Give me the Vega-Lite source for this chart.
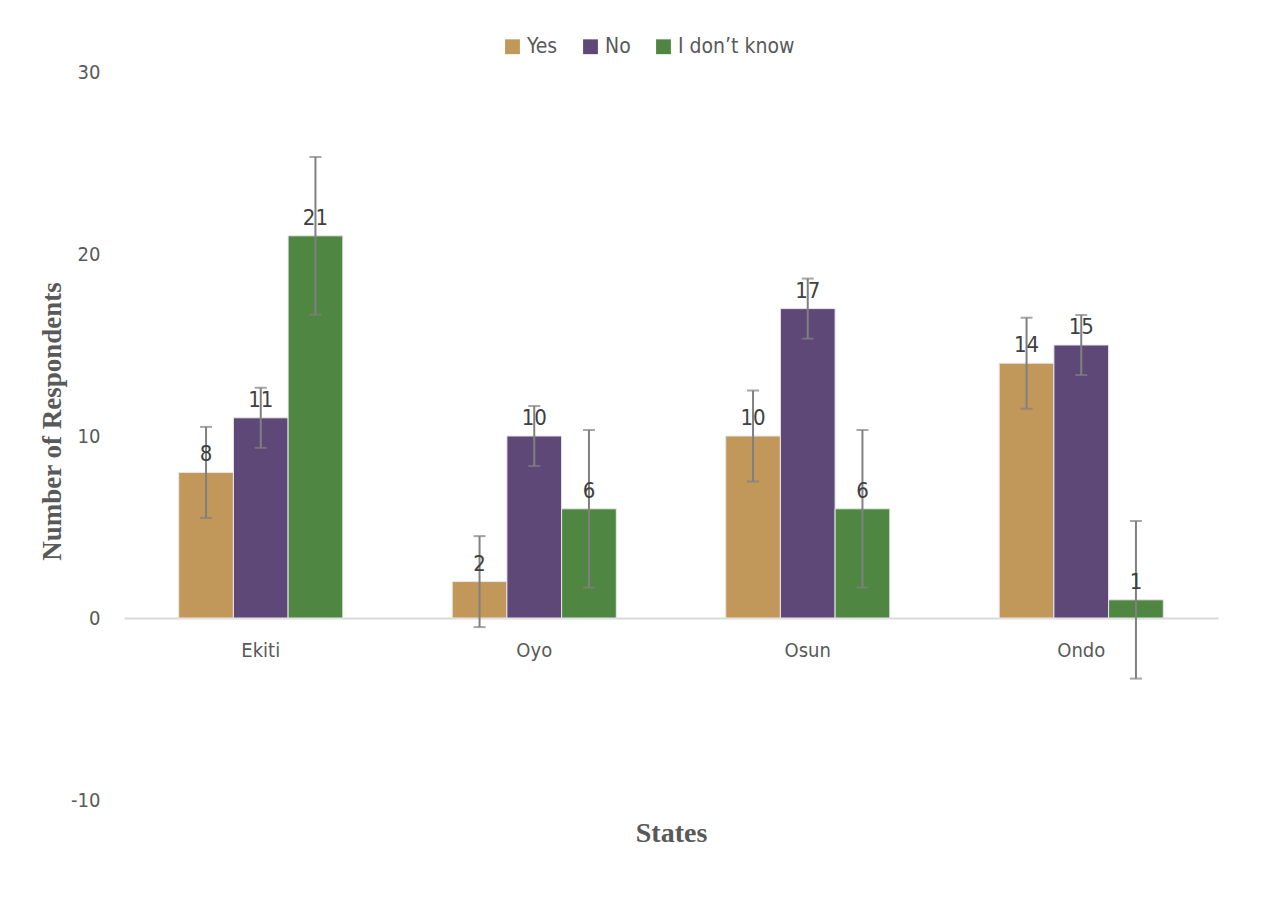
{
  "$schema": "https://vega.github.io/schema/vega-lite/v6.json",
  "width": 1094,
  "height": 728,
  "autosize": {"type": "none"},
  "padding": {"left": 124, "top": 72, "right": 60, "bottom": 111},
  "background": "white",
  "config": {
    "view": {"stroke": null},
    "font": "DejaVu Sans Condensed"
  },
  "data": {
    "values": [
      {"state": "Ekiti", "resp": "Yes", "value": 8, "lo": 5.5, "hi": 10.5},
      {"state": "Ekiti", "resp": "No", "value": 11, "lo": 9.35, "hi": 12.65},
      {"state": "Ekiti", "resp": "I don’t know", "value": 21, "lo": 16.67, "hi": 25.33},
      {"state": "Oyo", "resp": "Yes", "value": 2, "lo": -0.5, "hi": 4.5},
      {"state": "Oyo", "resp": "No", "value": 10, "lo": 8.35, "hi": 11.65},
      {"state": "Oyo", "resp": "I don’t know", "value": 6, "lo": 1.67, "hi": 10.33},
      {"state": "Osun", "resp": "Yes", "value": 10, "lo": 7.5, "hi": 12.5},
      {"state": "Osun", "resp": "No", "value": 17, "lo": 15.35, "hi": 18.65},
      {"state": "Osun", "resp": "I don’t know", "value": 6, "lo": 1.67, "hi": 10.33},
      {"state": "Ondo", "resp": "Yes", "value": 14, "lo": 11.5, "hi": 16.5},
      {"state": "Ondo", "resp": "No", "value": 15, "lo": 13.35, "hi": 16.65},
      {"state": "Ondo", "resp": "I don’t know", "value": 1, "lo": -3.33, "hi": 5.33}
    ]
  },
  "encoding": {
    "x": {
      "field": "state", "type": "nominal",
      "sort": ["Ekiti", "Oyo", "Osun", "Ondo"],
      "scale": {"paddingInner": 0.4, "paddingOuter": 0.2},
      "axis": {
        "title": "States",
        "titleFont": "Liberation Serif",
        "titleFontSize": 28,
        "titleFontWeight": "bold",
        "titleColor": "#595959",
        "titlePadding": 159,
        "offset": -182,
        "domainColor": "#D9D9D9",
        "domainWidth": 2,
        "ticks": false,
        "labelAngle": 0,
        "labelPadding": 22,
        "labelFontSize": 20,
        "labelColor": "#595959"
      }
    },
    "xOffset": {
      "field": "resp", "type": "nominal",
      "sort": ["Yes", "No", "I don’t know"],
      "scale": {"paddingInner": 0, "paddingOuter": 0}
    }
  },
  "layer": [
    {
      "mark": {"type": "bar", "stroke": "#E8E8E8", "strokeWidth": 1},
      "encoding": {
        "y": {
          "field": "value", "type": "quantitative",
          "scale": {"domain": [-10, 30], "nice": false, "zero": false},
          "axis": {
            "values": [-10, 0, 10, 20, 30],
            "labelExpr": "datum.value < 0 ? '-' + abs(datum.value) : '' + datum.value",
            "title": "Number of Respondents",
            "titleFont": "Liberation Serif",
            "titleFontSize": 27,
            "titleFontWeight": "bold",
            "titleColor": "#595959",
            "titlePadding": 4,
            "titleY": 349,
            "domain": false,
            "ticks": false,
            "grid": false,
            "labelPadding": 24,
            "labelFontSize": 20,
            "labelColor": "#595959"
          }
        },
        "y2": {"datum": 0},
        "color": {
          "field": "resp", "type": "nominal",
          "sort": ["Yes", "No", "I don’t know"],
          "scale": {"domain": ["Yes", "No", "I don’t know"], "range": ["#C2975A", "#5E4877", "#4E8642"]},
          "legend": {
            "title": null,
            "orient": "none",
            "direction": "horizontal",
            "legendX": 378,
            "legendY": -36,
            "symbolType": "square",
            "symbolSize": 220,
            "symbolStrokeWidth": 0,
            "labelFontSize": 21,
            "labelColor": "#595959",
            "columnPadding": 22,
            "labelOffset": 4
          }
        }
      }
    },
    {
      "mark": {"type": "rule", "color": "#808080", "strokeWidth": 2},
      "encoding": {
        "y": {"field": "lo", "type": "quantitative"},
        "y2": {"field": "hi"}
      }
    },
    {
      "mark": {"type": "tick", "color": "#808080", "thickness": 2, "size": 12, "orient": "horizontal"},
      "encoding": {
        "y": {"field": "lo", "type": "quantitative"}
      }
    },
    {
      "mark": {"type": "tick", "color": "#808080", "thickness": 2, "size": 12, "orient": "horizontal"},
      "encoding": {
        "y": {"field": "hi", "type": "quantitative"}
      }
    },
    {
      "mark": {"type": "text", "dy": -11, "baseline": "alphabetic", "fontSize": 22, "color": "#404040"},
      "encoding": {
        "y": {"field": "value", "type": "quantitative"},
        "text": {"field": "value", "type": "quantitative"}
      }
    }
  ]
}
